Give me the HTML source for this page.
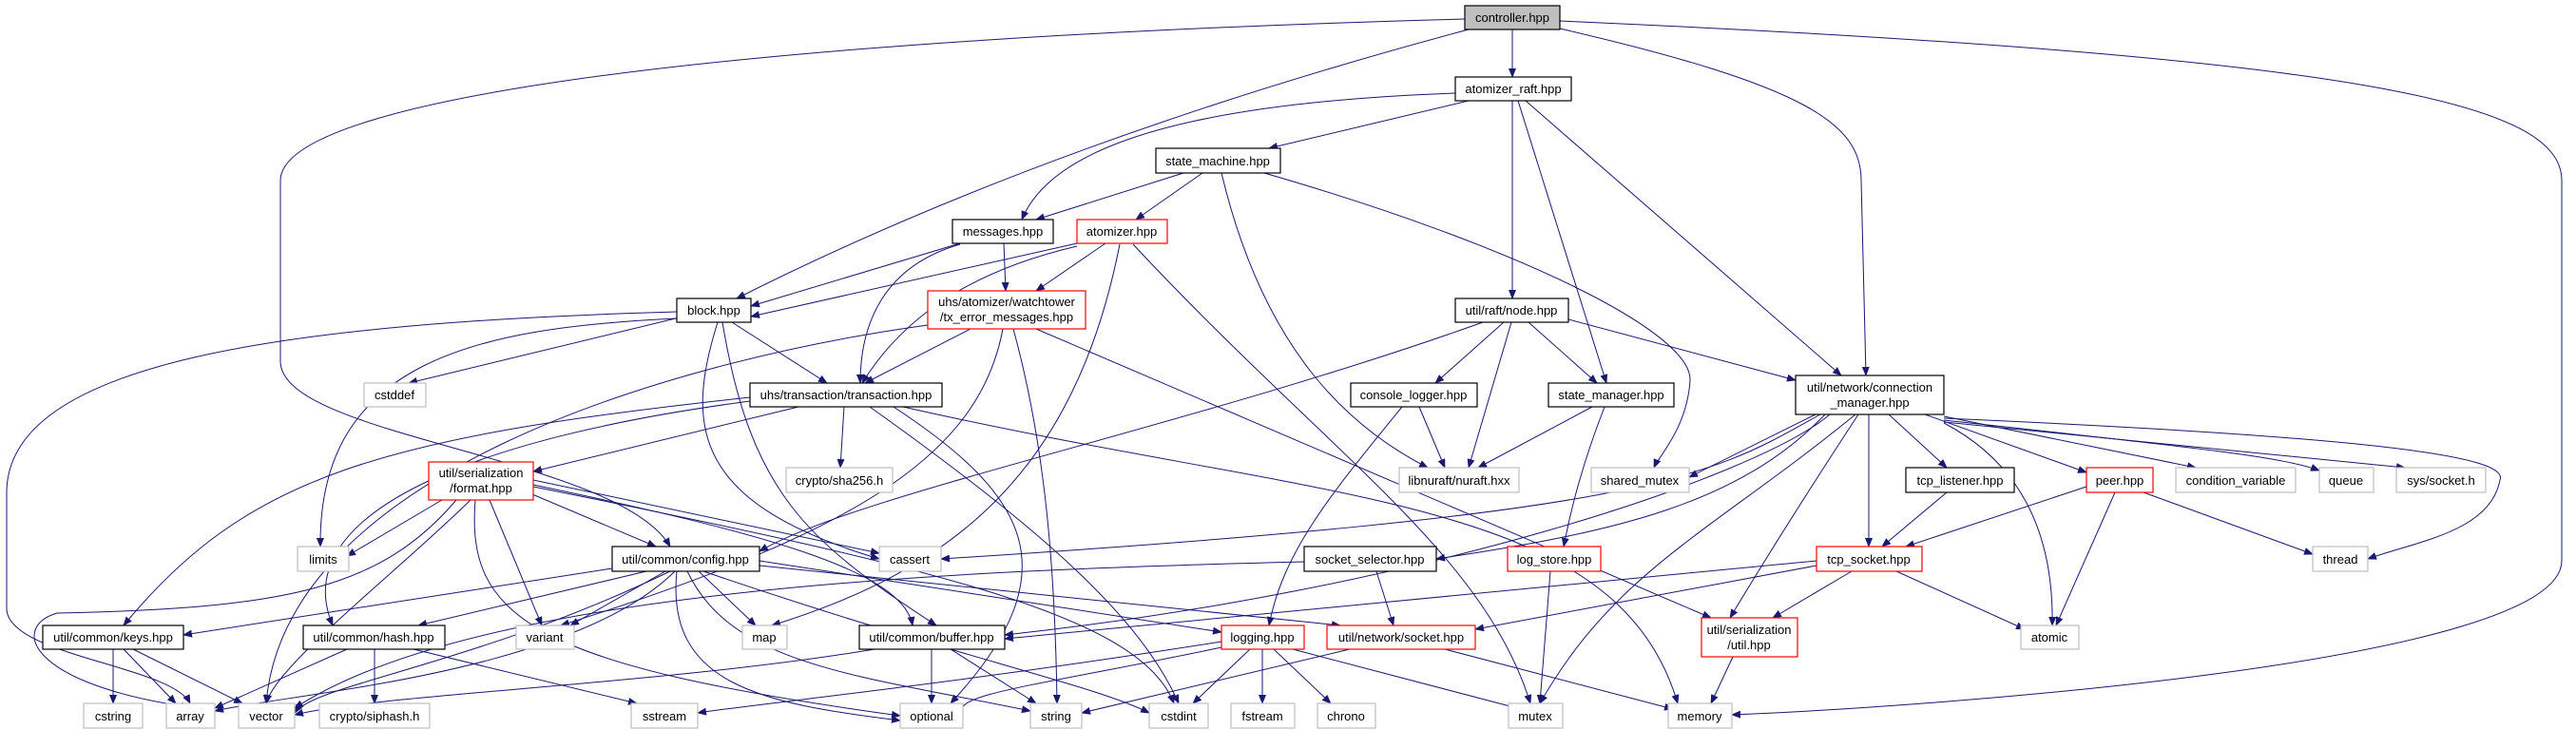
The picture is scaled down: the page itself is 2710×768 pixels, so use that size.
<!DOCTYPE html>
<html><head><meta charset="utf-8"><style>
html,body{margin:0;padding:0;background:#fff;}
svg{display:block;}
text{font-family:"Liberation Sans",sans-serif;font-size:13px;fill:#000;}
.n{fill:#fff;stroke:#000;stroke-width:1.2;}
.g{fill:#fff;stroke:#bfbfbf;stroke-width:1.2;}
.r{fill:#fff;stroke:#ff0000;stroke-width:1.2;}
.e{fill:none;stroke:#191970;stroke-width:1;marker-end:url(#a);}
</style></head><body>
<svg width="2710" height="768" viewBox="0 0 2710 768" xmlns="http://www.w3.org/2000/svg">
<defs><marker id="a" markerWidth="10" markerHeight="8" refX="9" refY="4" orient="auto" markerUnits="userSpaceOnUse"><path d="M0,0 L10,4 L0,8 z" fill="#191970"/></marker></defs>
<g>
<path class="e" d="M1591 31 L1591 81"/>
<path class="e" d="M1545 31 Q1100 150 775 314"/>
<path class="e" d="M1541 20 C800 40 295 100 295 190 L295 380 C295 460 650 480 705 575"/>
<path class="e" d="M1641 30 C1900 90 1958 130 1958 190 L1963 395"/>
<path class="e" d="M1641 22 C2500 60 2695 110 2695 190 L2695 590 C2695 700 2000 745 1822 752"/>
<path class="e" d="M1531 98 C1200 110 1100 170 1075 231"/>
<path class="e" d="M1545 106 L1335 156"/>
<path class="e" d="M1591 106 L1591 314"/>
<path class="e" d="M1597 106 L1690 403"/>
<path class="e" d="M1605 106 L1937 395"/>
<path class="e" d="M1245 182 L1090 231"/>
<path class="e" d="M1265 182 L1195 231"/>
<path class="e" d="M1285 182 C1330 370 1420 450 1502 492"/>
<path class="e" d="M1330 182 C1600 260 1780 350 1778 400 C1775 450 1745 480 1740 492"/>
<path class="e" d="M1010 256 L790 322"/>
<path class="e" d="M1056 256 L1058 306"/>
<path class="e" d="M1010 257 C930 280 905 340 905 403"/>
<path class="e" d="M1133 256 L790 333"/>
<path class="e" d="M1163 256 L1090 306"/>
<path class="e" d="M1133 259 C1000 290 940 350 907 403"/>
<path class="e" d="M1178 257 C1130 500 1000 600 812 658"/>
<path class="e" d="M1192 257 C1400 480 1560 580 1610 740"/>
<path class="e" d="M1021 346 L910 403"/>
<path class="e" d="M976 342 C700 380 300 500 280 740"/>
<path class="e" d="M1055 346 C1030 480 900 560 590 658"/>
<path class="e" d="M1066 346 C1100 470 1110 600 1112 740"/>
<path class="e" d="M1090 346 L1800 650"/>
<path class="e" d="M715 334 L430 403"/>
<path class="e" d="M770 339 L870 403"/>
<path class="e" d="M712 335 C500 345 335 380 337 575"/>
<path class="e" d="M712 328 C300 340 5 380 7 520 L7 640 C7 690 180 700 200 740"/>
<path class="e" d="M755 339 C720 450 730 530 925 588"/>
<path class="e" d="M760 339 C790 520 850 570 985 658"/>
<path class="e" d="M840 428 L561 496"/>
<path class="e" d="M888 428 L884 492"/>
<path class="e" d="M789 418 C400 460 260 500 130 658"/>
<path class="e" d="M789 422 C500 460 300 540 350 658"/>
<path class="e" d="M915 428 C1100 560 1200 650 1240 740"/>
<path class="e" d="M940 428 C1080 520 1130 600 1000 740"/>
<path class="e" d="M950 428 C1400 530 1700 520 1765 740"/>
<path class="e" d="M465 526 L365 585"/>
<path class="e" d="M560 520 L690 575"/>
<path class="e" d="M495 526 C420 600 290 700 280 740"/>
<path class="e" d="M480 526 C400 620 300 640 60 645 C10 660 30 720 200 744"/>
<path class="e" d="M515 526 L570 658"/>
<path class="e" d="M500 526 C490 650 560 700 947 753"/>
<path class="e" d="M561 505 L925 582"/>
<path class="e" d="M561 510 C800 560 950 600 960 658"/>
<path class="e" d="M561 512 C1000 600 1200 650 1235 740"/>
<path class="e" d="M644 598 L193 668"/>
<path class="e" d="M680 601 L440 658"/>
<path class="e" d="M700 601 L600 658"/>
<path class="e" d="M735 601 L795 658"/>
<path class="e" d="M710 601 C600 710 300 730 226 748"/>
<path class="e" d="M705 601 C500 700 330 720 310 750"/>
<path class="e" d="M712 601 C700 720 800 740 947 758"/>
<path class="e" d="M723 601 C770 700 900 710 1084 748"/>
<path class="e" d="M740 601 C1000 690 1150 720 1209 750"/>
<path class="e" d="M799 590 L1285 665"/>
<path class="e" d="M799 595 L1410 658"/>
<path class="e" d="M119 683 L119 740"/>
<path class="e" d="M130 683 L185 740"/>
<path class="e" d="M140 683 L255 740"/>
<path class="e" d="M365 683 L226 745"/>
<path class="e" d="M394 683 L394 740"/>
<path class="e" d="M435 683 L670 740"/>
<path class="e" d="M980 683 L980 740"/>
<path class="e" d="M1000 683 L1090 740"/>
<path class="e" d="M920 683 C700 720 400 730 310 752"/>
<path class="e" d="M1285 675 C1000 720 800 740 734 750"/>
<path class="e" d="M1290 680 C1100 720 1000 730 1013 750"/>
<path class="e" d="M1315 683 L1255 740"/>
<path class="e" d="M1328 683 L1328 740"/>
<path class="e" d="M1340 683 L1400 740"/>
<path class="e" d="M1360 683 L1600 746"/>
<path class="e" d="M1420 683 L1138 750"/>
<path class="e" d="M1520 683 L1760 746"/>
<path class="e" d="M1448 601 L1466 658"/>
<path class="e" d="M1372 591 C1000 600 500 620 310 745"/>
<path class="e" d="M1631 601 L1620 740"/>
<path class="e" d="M1582 339 L1510 403"/>
<path class="e" d="M1590 339 L1545 492"/>
<path class="e" d="M1608 339 L1680 403"/>
<path class="e" d="M1650 336 L1889 400"/>
<path class="e" d="M1560 339 C1250 450 900 520 799 580"/>
<path class="e" d="M1493 428 L1520 492"/>
<path class="e" d="M1475 428 C1400 520 1350 580 1335 658"/>
<path class="e" d="M1675 428 L1555 492"/>
<path class="e" d="M1688 428 C1660 500 1650 550 1645 575"/>
<path class="e" d="M1910 436 L1777 502"/>
<path class="e" d="M1915 436 C1800 500 1750 540 990 588"/>
<path class="e" d="M1920 436 C1830 530 1700 560 1511 588"/>
<path class="e" d="M1966 436 L1966 575"/>
<path class="e" d="M1987 436 L2048 492"/>
<path class="e" d="M2025 436 L2195 497"/>
<path class="e" d="M2045 438 L2310 492"/>
<path class="e" d="M2045 442 C2300 470 2400 480 2440 495"/>
<path class="e" d="M2045 444 L2530 492"/>
<path class="e" d="M2045 440 C2500 460 2640 480 2630 505 C2620 560 2540 570 2491 588"/>
<path class="e" d="M2045 445 C2150 500 2160 600 2159 658"/>
<path class="e" d="M1952 436 C1800 560 1700 600 1620 740"/>
<path class="e" d="M1955 436 C1900 520 1850 600 1820 650"/>
<path class="e" d="M1925 436 C1850 500 1500 620 1057 668"/>
<path class="e" d="M2048 518 L1980 575"/>
<path class="e" d="M2195 512 L2005 575"/>
<path class="e" d="M2225 518 L2163 658"/>
<path class="e" d="M2255 518 L2433 583"/>
<path class="e" d="M1911 590 L1057 672"/>
<path class="e" d="M1911 595 L1552 662"/>
<path class="e" d="M1948 601 L1865 650"/>
<path class="e" d="M1995 601 L2130 662"/>
<path class="e" d="M1823 691 L1800 740"/>
</g>
<g text-anchor="middle">
<rect x="1541" y="6" width="100" height="25" fill="#bfbfbf" stroke="#000" stroke-width="1.2"/><text x="1591" y="23">controller.hpp</text>
<rect class="n" x="1531" y="81" width="122" height="25"/><text x="1592" y="98">atomizer_raft.hpp</text>
<rect class="n" x="1216" y="156" width="131" height="26"/><text x="1281" y="174">state_machine.hpp</text>
<rect class="n" x="1002" y="231" width="106" height="25"/><text x="1055" y="248">messages.hpp</text>
<rect class="r" x="1133" y="231" width="95" height="25"/><text x="1180" y="248">atomizer.hpp</text>
<rect class="r" x="976" y="306" width="166" height="40"/><text x="1059" y="322">uhs/atomizer/watchtower</text><text x="1059" y="338">/tx_error_messages.hpp</text>
<rect class="n" x="712" y="314" width="78" height="25"/><text x="751" y="331">block.hpp</text>
<rect class="n" x="1531" y="314" width="119" height="25"/><text x="1590" y="331">util/raft/node.hpp</text>
<rect class="n" x="789" y="403" width="202" height="25"/><text x="890" y="420">uhs/transaction/transaction.hpp</text>
<rect class="n" x="1421" y="403" width="133" height="25"/><text x="1487" y="420">console_logger.hpp</text>
<rect class="n" x="1629" y="403" width="132" height="25"/><text x="1695" y="420">state_manager.hpp</text>
<rect class="n" x="1889" y="395" width="156" height="41"/><text x="1967" y="412">util/network/connection</text><text x="1967" y="428">_manager.hpp</text>
<rect class="g" x="383" y="403" width="65" height="25"/><text x="415" y="420">cstddef</text>
<rect class="g" x="827" y="492" width="112" height="26"/><text x="883" y="510">crypto/sha256.h</text>
<rect class="r" x="451" y="486" width="110" height="40"/><text x="506" y="502">util/serialization</text><text x="506" y="518">/format.hpp</text>
<rect class="g" x="1472" y="492" width="126" height="26"/><text x="1535" y="510">libnuraft/nuraft.hxx</text>
<rect class="g" x="1674" y="492" width="103" height="26"/><text x="1725" y="510">shared_mutex</text>
<rect class="n" x="2005" y="492" width="114" height="26"/><text x="2062" y="510">tcp_listener.hpp</text>
<rect class="r" x="2195" y="492" width="70" height="26"/><text x="2230" y="510">peer.hpp</text>
<rect class="g" x="2289" y="492" width="126" height="26"/><text x="2352" y="510">condition_variable</text>
<rect class="g" x="2440" y="492" width="57" height="26"/><text x="2468" y="510">queue</text>
<rect class="g" x="2521" y="492" width="94" height="26"/><text x="2568" y="510">sys/socket.h</text>
<rect class="g" x="313" y="575" width="54" height="26"/><text x="340" y="593">limits</text>
<rect class="n" x="644" y="575" width="155" height="26"/><text x="721" y="593">util/common/config.hpp</text>
<rect class="g" x="925" y="575" width="65" height="26"/><text x="957" y="593">cassert</text>
<rect class="n" x="1372" y="575" width="139" height="26"/><text x="1441" y="593">socket_selector.hpp</text>
<rect class="r" x="1586" y="575" width="98" height="26"/><text x="1635" y="593">log_store.hpp</text>
<rect class="r" x="1911" y="575" width="111" height="26"/><text x="1966" y="593">tcp_socket.hpp</text>
<rect class="g" x="2433" y="575" width="58" height="26"/><text x="2462" y="593">thread</text>
<rect class="n" x="45" y="658" width="148" height="25"/><text x="119" y="675">util/common/keys.hpp</text>
<rect class="n" x="319" y="658" width="149" height="25"/><text x="393" y="675">util/common/hash.hpp</text>
<rect class="g" x="543" y="658" width="61" height="25"/><text x="573" y="675">variant</text>
<rect class="g" x="781" y="658" width="47" height="25"/><text x="804" y="675">map</text>
<rect class="n" x="904" y="658" width="153" height="25"/><text x="980" y="675">util/common/buffer.hpp</text>
<rect class="r" x="1285" y="658" width="87" height="25"/><text x="1328" y="675">logging.hpp</text>
<rect class="r" x="1396" y="658" width="156" height="25"/><text x="1474" y="675">util/network/socket.hpp</text>
<rect class="r" x="1790" y="650" width="101" height="41"/><text x="1840" y="667">util/serialization</text><text x="1840" y="683">/util.hpp</text>
<rect class="g" x="2126" y="658" width="61" height="25"/><text x="2156" y="675">atomic</text>
<rect class="g" x="88" y="740" width="62" height="26"/><text x="119" y="758">cstring</text>
<rect class="g" x="175" y="740" width="51" height="26"/><text x="200" y="758">array</text>
<rect class="g" x="251" y="740" width="59" height="26"/><text x="280" y="758">vector</text>
<rect class="g" x="336" y="740" width="116" height="26"/><text x="394" y="758">crypto/siphash.h</text>
<rect class="g" x="664" y="740" width="70" height="26"/><text x="699" y="758">sstream</text>
<rect class="g" x="947" y="740" width="66" height="26"/><text x="980" y="758">optional</text>
<rect class="g" x="1084" y="740" width="54" height="26"/><text x="1111" y="758">string</text>
<rect class="g" x="1209" y="740" width="62" height="26"/><text x="1240" y="758">cstdint</text>
<rect class="g" x="1295" y="740" width="67" height="26"/><text x="1328" y="758">fstream</text>
<rect class="g" x="1386" y="740" width="61" height="26"/><text x="1416" y="758">chrono</text>
<rect class="g" x="1587" y="740" width="57" height="26"/><text x="1615" y="758">mutex</text>
<rect class="g" x="1755" y="740" width="67" height="26"/><text x="1788" y="758">memory</text>
</g>
</svg>
</body></html>
